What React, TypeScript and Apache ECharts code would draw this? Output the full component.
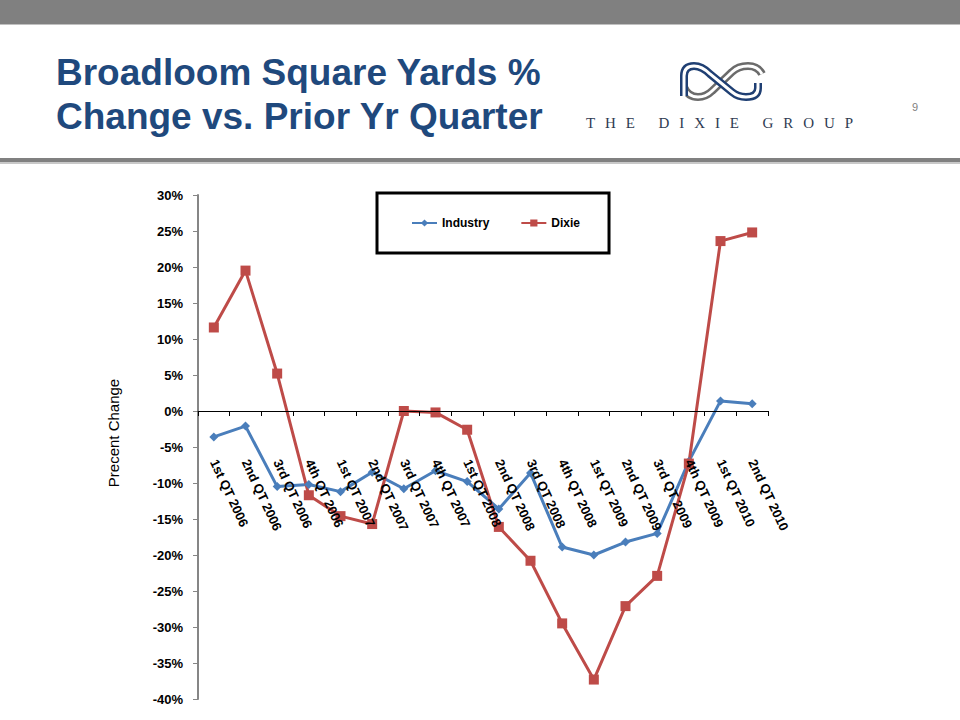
import React, { useEffect, useRef } from 'react';
import * as echarts from 'echarts';

const categories = [
  '1st QT 2006', '2nd QT 2006', '3rd QT 2006', '4th QT 2006',
  '1st QT 2007', '2nd QT 2007', '3rd QT 2007', '4th QT 2007',
  '1st QT 2008', '2nd QT 2008', '3rd QT 2008', '4th QT 2008',
  '1st QT 2009', '2nd QT 2009', '3rd QT 2009', '4th QT 2009',
  '1st QT 2010', '2nd QT 2010',
];
const industry = [-3.6, -2.1, -10.5, -10.2, -11.2, -8.5, -10.8, -8.3, -9.8, -13.6, -8.6, -18.9, -20.0, -18.2, -17.0, -7.0, 1.4, 1.0];
const dixie = [11.6, 19.5, 5.2, -11.7, -14.6, -15.7, 0.0, -0.2, -2.6, -16.1, -20.8, -29.5, -37.3, -27.1, -22.9, -7.3, 23.6, 24.8];
const yMin = -40;
const yMax = 30;
const yStep = 5;

const titleLines = ['Broadloom Square Yards %', 'Change vs. Prior Yr Quarter'];
const logoText = 'THE DIXIE GROUP';

const bluePath = 'M4,34 L4,14 Q4,4 14,4 Q22,4 30,12 L52,30 Q58,35 66,35 Q78,35 78,26 L78,21';
const grayPath = 'M4,25 Q8,35 18,35 Q26,35 32,29 L52,10 Q58,4 68,4 Q78,4 82,12';
echarts.graphic.registerShape('dixieBlue', echarts.graphic.extendPath(bluePath, {}));
echarts.graphic.registerShape('dixieGray', echarts.graphic.extendPath(grayPath, {}));

const SANS = '"Liberation Sans", Arial, Helvetica, sans-serif';
const SERIF = '"Liberation Serif", "Times New Roman", serif';

const GRID_TOP = 195;
const GRID_BOTTOM = 21;
const CHART_H = 720;

function logoLetters(): any[] {
  const font = `15px ${SERIF}`;
  const canvas = document.createElement('canvas');
  const ctx = canvas.getContext('2d');
  const widths = logoText.split('').map((ch) => {
    if (!ctx) return 9;
    ctx.font = font;
    return ctx.measureText(ch).width;
  });
  const start = 586;
  const end = 853;
  const natural = widths.reduce((a, b) => a + b, 0);
  const spacing = (end - start - natural) / (logoText.length - 1);
  const out: any[] = [];
  let x = start;
  logoText.split('').forEach((ch, i) => {
    if (ch !== ' ') {
      out.push({
        type: 'text',
        x,
        y: 123,
        style: { text: ch, font, fill: '#2F3B52', align: 'left', verticalAlign: 'middle' },
      });
    }
    x += widths[i] + spacing;
  });
  return out;
}

export default function App() {
  const ref = useRef<HTMLDivElement>(null);
  useEffect(() => {
    if (!ref.current) return;
    const chart = echarts.init(ref.current, undefined, { renderer: 'svg' });
    const plotH = CHART_H - GRID_TOP - GRID_BOTTOM;
    const zeroAboveBottom = ((0 - yMin) / (yMax - yMin)) * plotH;
    const labelMargin = 49 - zeroAboveBottom;
    const option: any = {
      animation: false,
      backgroundColor: '#ffffff',
      textStyle: { fontFamily: SANS },
      grid: {
        left: 198,
        right: 192,
        top: GRID_TOP,
        bottom: GRID_BOTTOM,
        containLabel: false,
        outerBoundsMode: 'none',
      },
      legend: {
        left: 377,
        top: 193,
        orient: 'horizontal',
        padding: [24, 29, 24, 34],
        itemGap: 31,
        itemWidth: 25,
        itemHeight: 9,
        borderColor: '#000000',
        borderWidth: 3,
        backgroundColor: '#ffffff',
        textStyle: { fontFamily: SANS, fontWeight: 'bold', fontSize: 12, color: '#000000' },
        data: ['Industry', 'Dixie'],
      },
      xAxis: {
        type: 'category',
        data: categories,
        boundaryGap: true,
        axisLine: { onZero: true, lineStyle: { color: '#000000', width: 1 } },
        axisTick: { show: true, inside: false, length: 5, alignWithLabel: false, lineStyle: { color: '#000000' } },
        axisLabel: {
          interval: 0,
          rotate: -65,
          margin: labelMargin,
          fontFamily: SANS,
          fontWeight: 'bold',
          fontSize: 13,
          color: '#000000',
        },
        splitLine: { show: false },
        z: 5,
      },
      yAxis: {
        type: 'value',
        min: yMin,
        max: yMax,
        interval: yStep,
        axisLine: { show: true, lineStyle: { color: '#868686', width: 2 } },
        axisTick: { show: true, inside: false, length: 5, lineStyle: { color: '#868686' } },
        axisLabel: {
          formatter: '{value}%',
          margin: 15,
          fontFamily: SANS,
          fontWeight: 'bold',
          fontSize: 13,
          color: '#000000',
        },
        splitLine: { show: false },
      },
      series: [
        {
          name: 'Industry',
          type: 'line',
          data: industry,
          symbol: 'diamond',
          symbolSize: 9,
          lineStyle: { color: '#4A7EBB', width: 3 },
          itemStyle: { color: '#4A7EBB' },
        },
        {
          name: 'Dixie',
          type: 'line',
          data: dixie,
          symbol: 'rect',
          symbolSize: 10,
          lineStyle: { color: '#BE4B48', width: 3 },
          itemStyle: { color: '#BE4B48' },
        },
      ],
      graphic: [
        { type: 'rect', shape: { x: 0, y: 0, width: 960, height: 24 }, style: { fill: '#808080' } },
        { type: 'rect', shape: { x: 0, y: 24, width: 960, height: 1 }, style: { fill: '#c0c0c0' } },
        { type: 'rect', shape: { x: 0, y: 158, width: 960, height: 4 }, style: { fill: '#808080' } },
        { type: 'rect', shape: { x: 0, y: 162, width: 960, height: 2 }, style: { fill: '#c8c8c8' } },
        ...titleLines.map((t, i) => ({
          type: 'text',
          x: 56,
          y: 72 + i * 44,
          style: {
            text: t,
            font: `bold 37px ${SANS}`,
            fill: '#1F497D',
            align: 'left',
            verticalAlign: 'middle',
          },
        })),
        { type: 'dixieGray', x: 680, y: 62, style: { fill: 'none', stroke: '#6B6B6B', lineWidth: 8 } },
        { type: 'dixieGray', x: 680, y: 62, style: { fill: 'none', stroke: '#ffffff', lineWidth: 3 } },
        { type: 'dixieBlue', x: 680, y: 62, style: { fill: 'none', stroke: '#1F3F73', lineWidth: 8 } },
        { type: 'dixieBlue', x: 680, y: 62, style: { fill: 'none', stroke: '#ffffff', lineWidth: 3 } },
        ...logoLetters(),
        {
          type: 'text',
          x: 915,
          y: 107,
          style: { text: '9', font: `11px ${SANS}`, fill: '#7f7f7f', align: 'center', verticalAlign: 'middle' },
        },
        {
          type: 'text',
          x: 113,
          y: 433,
          rotation: Math.PI / 2,
          style: {
            text: 'Precent Change',
            font: `15px ${SANS}`,
            fill: '#000000',
            align: 'center',
            verticalAlign: 'middle',
          },
        },
      ],
    };
    chart.setOption(option);
    return () => chart.dispose();
  }, []);
  return (
    <div
      ref={ref}
      style={{ position: 'fixed', left: 0, top: 0, width: 960, height: 720, background: '#ffffff' }}
    />
  );
}
